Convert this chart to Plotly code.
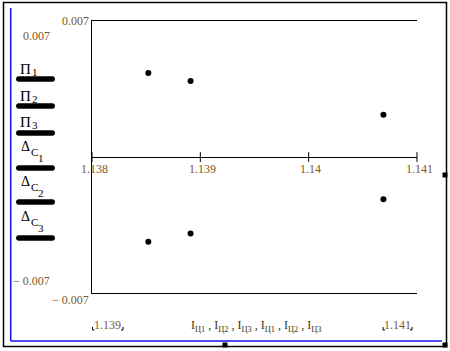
import plotly.graph_objects as go

# ---------------- data ----------------
x_upper = [1.13852, 1.13891, 1.14069]
y_upper = [0.00432, 0.00391, 0.00217]
x_lower = [1.13852, 1.13891, 1.14069]
y_lower = [-0.00436, -0.00394, -0.00218]
x_ticks = [1.138, 1.139, 1.14, 1.141]
x_tick_labels = ["1.138", "1.139", "1.14", "1.141"]
x_limits = [1.138, 1.141]
y_limits = [-0.007, 0.007]
y_limit_labels = ["− 0.007", "0.007"]
legend_main = ["Π", "Π", "Π", "Δ", "Δ", "Δ"]
legend_sub = ["1", "2", "3", "C", "C", "C"]
legend_subsub = ["", "", "", "1", "2", "3"]
x_axis_text = "I<sub>Ц1</sub> , I<sub>Ц2</sub> , I<sub>Ц3</sub> , I<sub>Ц1</sub> , I<sub>Ц2</sub> , I<sub>Ц3</sub>"
x_min_label = "1.139"
x_max_label = "1.141"

# ---------------- layout helpers ----------------
W, H = 450, 351
L, R, T, B = 92, 417, 21, 293
NUM = "#7a5a2a"
FONT = "Liberation Serif"


def px(x):
    return (x - L) / (R - L)


def py(y):
    return (B - y) / (B - T)


def ann(x, y, text, size, color, xanchor="left"):
    return dict(x=px(x), y=py(y), xref="paper", yref="paper", text=text,
                showarrow=False, xanchor=xanchor, yanchor="middle",
                font=dict(family=FONT, size=size, color=color))


fig = go.Figure()

fig.add_trace(go.Scatter(x=x_upper, y=y_upper, mode="markers",
                         marker=dict(size=6, color="black"), cliponaxis=False))
fig.add_trace(go.Scatter(x=x_lower, y=y_lower, mode="markers",
                         marker=dict(size=6, color="black"), cliponaxis=False))
# tick marks on the zero axis
fig.add_trace(go.Scatter(x=x_ticks, y=[0] * len(x_ticks), mode="markers",
                         marker=dict(symbol="line-ns", size=7,
                                     line=dict(width=1, color="black")),
                         cliponaxis=False))

annotations = []
for xv, lab in zip(x_ticks, x_tick_labels):
    annotations.append(dict(x=xv, y=0, xref="x", yref="y", text=lab,
                            showarrow=False, xshift=2, yshift=-12,
                            font=dict(family=FONT, size=12, color=NUM)))
annotations.append(ann(91, 21, y_limit_labels[1], 12, NUM, "right"))
annotations.append(ann(91, 300, y_limit_labels[0], 12, NUM, "right"))
annotations.append(ann(52, 36, y_limit_labels[1], 12, NUM, "right"))
annotations.append(ann(52, 281, y_limit_labels[0], 12, NUM, "right"))
annotations.append(ann(107, 325, x_min_label, 12, NUM, "center"))
annotations.append(ann(397, 325, x_max_label, 12, NUM, "center"))
annotations.append(ann(256, 326, x_axis_text, 12, "#3a3020", "center"))

# legend labels and bars
label_y = [69, 96, 122, 146, 181, 216]
bar_y = [79, 106, 133, 168, 202, 238]
shapes = []
for i in range(6):
    if legend_subsub[i]:
        annotations.append(ann(19, label_y[i], legend_main[i], 14, "black"))
        annotations.append(ann(29, label_y[i] + 6, legend_sub[i], 11, "black"))
        annotations.append(ann(36, label_y[i] + 12, legend_subsub[i], 11, "black"))
    else:
        annotations.append(ann(18, label_y[i], legend_main[i], 15, "black"))
        annotations.append(ann(30, label_y[i] + 3, legend_sub[i], 11, "black"))
    r = 2.8
    x0, x1 = 16 + r, 55 - r
    yc = bar_y[i]
    k = r * 4 / 3
    path = (f"M {px(x0)},{py(yc - r)} L {px(x1)},{py(yc - r)} "
            f"C {px(x1 + k)},{py(yc - r)} {px(x1 + k)},{py(yc + r)} {px(x1)},{py(yc + r)} "
            f"L {px(x0)},{py(yc + r)} "
            f"C {px(x0 - k)},{py(yc + r)} {px(x0 - k)},{py(yc - r)} {px(x0)},{py(yc - r)} Z")
    shapes.append(dict(type="path", xref="paper", yref="paper", path=path,
                       fillcolor="black", line=dict(width=0)))

# outer frame
shapes.append(dict(type="rect", xref="paper", yref="paper",
                   x0=px(3.5), x1=px(446.5), y0=py(346.5), y1=py(2.5),
                   line=dict(color="black", width=1.5), fillcolor="rgba(0,0,0,0)"))
# blue selection lines
shapes.append(dict(type="line", xref="paper", yref="paper",
                   x0=px(10.7), x1=px(10.7), y0=py(8), y1=py(341),
                   line=dict(color="#1010ee", width=1.5)))
shapes.append(dict(type="line", xref="paper", yref="paper",
                   x0=px(10.7), x1=px(442), y0=py(341), y1=py(341),
                   line=dict(color="#1010ee", width=1.5)))
# handles
for (hx, hy) in [(225, 345), (445, 345), (445, 175)]:
    shapes.append(dict(type="rect", xref="paper", yref="paper",
                       x0=px(hx - 2.5), x1=px(hx + 2.5), y0=py(hy + 2.5), y1=py(hy - 2.5),
                       fillcolor="black", line=dict(width=0)))
# corner marks around min/max labels
for (cx, side) in [(92.5, -1), (123, 1), (383, -1), (412, 1)]:
    shapes.append(dict(type="path", xref="paper", yref="paper",
                       path=f"M {px(cx)},{py(327)} L {px(cx)},{py(330)} L {px(cx - side * 2)},{py(330)}",
                       line=dict(color="black", width=1)))

fig.update_layout(
    width=W, height=H,
    margin=dict(l=L, r=W - R, t=T, b=H - B),
    paper_bgcolor="white", plot_bgcolor="white",
    showlegend=False,
    xaxis=dict(range=x_limits, showgrid=False, zeroline=False, showticklabels=False,
               ticks="", showline=True, linecolor="black", linewidth=1, mirror=True),
    yaxis=dict(range=y_limits, showgrid=False, showticklabels=False, ticks="",
               showline=True, linecolor="black", linewidth=1, mirror=False,
               zeroline=True, zerolinecolor="black", zerolinewidth=1),
    annotations=annotations,
    shapes=shapes,
)

fig.write_html("out.html")
